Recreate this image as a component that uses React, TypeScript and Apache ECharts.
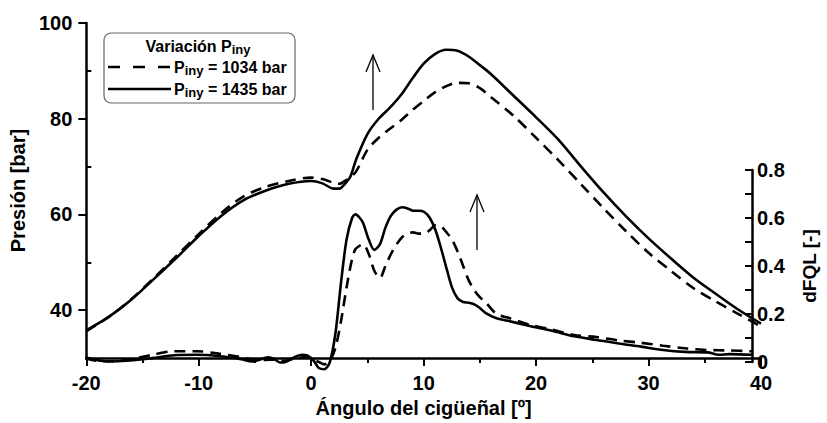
import React, { useEffect, useRef } from "react";
import * as echarts from "echarts";

// ---------- data ----------
const X_MIN = -20;
const X_MAX = 40;
const X_STEP = 10;

const P_MIN = 30;
const P_MAX = 100;
const P_TICKS = [40, 60, 80, 100];
const P_MINOR_TICKS = [50, 70, 90];

const Q_MIN = 0;
const Q_MAX = 0.8;
const Q_STEP = 0.2;

// Cylinder pressure [bar] vs crank angle
const P_ANGLE = [-20, -18, -16, -14, -12, -10, -8, -6, -4, -2, 0, 1, 2, 2.5, 3, 3.5, 4, 5, 6, 7, 8, 9, 10, 11, 12, 13, 14, 15, 16, 18, 20, 22, 24, 26, 28, 30, 32, 34, 36, 38, 40];
const P_1435 = [35.8, 38.6, 42.2, 46.5, 50.9, 55.5, 59.7, 63.0, 65.0, 66.4, 67.0, 66.5, 65.4, 65.4, 66.4, 68.0, 71.5, 76.8, 80.0, 82.3, 85.0, 88.4, 91.5, 93.5, 94.4, 94.2, 93.0, 91.2, 89.3, 84.8, 80.3, 75.6, 70.0, 64.6, 59.6, 55.0, 50.8, 46.8, 43.4, 40.1, 37.2];
const P_1034 = [35.6, 38.6, 42.3, 46.7, 51.3, 55.9, 60.3, 63.8, 65.8, 67.0, 67.7, 67.4, 66.6, 66.4, 67.0, 67.8, 69.0, 73.5, 76.0, 77.9, 79.7, 81.8, 83.7, 85.5, 86.8, 87.5, 87.4, 86.4, 84.5, 80.6, 76.0, 71.3, 66.3, 61.3, 56.5, 52.0, 48.2, 44.6, 41.8, 39.2, 36.6];

// dFQL [-] vs crank angle
const Q_ANGLE = [-20, -19, -18, -16, -14, -12, -10, -8, -6, -5, -4, -3.5, -3, -2.5, -2, -1.5, -1, -0.5, 0, 0.5, 1, 1.5, 2, 2.5, 3, 3.5, 4, 4.3, 4.7, 5, 5.5, 6, 6.5, 7, 7.5, 8, 8.5, 9, 9.5, 10, 10.5, 11, 11.5, 12, 12.5, 13, 13.5, 14, 14.5, 15, 15.5, 16, 17, 18, 20, 22, 24, 26, 28, 30, 32, 34, 36, 37, 38, 40];
const Q_1435 = [0.02, 0.008, 0.002, 0.006, 0.016, 0.028, 0.03, 0.025, 0.012, 0.002, 0.015, 0.02, 0.012, -0.002, 0.0, 0.012, 0.024, 0.03, 0.026, 0.008, -0.025, -0.03, 0.0, 0.12, 0.33, 0.51, 0.6, 0.615, 0.6, 0.578, 0.51, 0.467, 0.49, 0.56, 0.61, 0.635, 0.645, 0.64, 0.63, 0.63, 0.625, 0.6, 0.55, 0.475, 0.39, 0.31, 0.265, 0.25, 0.247, 0.24, 0.225, 0.205, 0.182, 0.172, 0.15, 0.13, 0.107, 0.092, 0.077, 0.064, 0.05, 0.042, 0.04, 0.03, 0.033, 0.03];
const Q_1034 = [0.015, 0.005, 0.003, 0.01, 0.03, 0.045, 0.045, 0.035, 0.02, 0.01, 0.008, 0.01, 0.01, 0.006, 0.005, 0.01, 0.015, 0.02, 0.02, 0.01, 0.0, -0.01, 0.005, 0.06, 0.17, 0.31, 0.43, 0.47, 0.485, 0.49, 0.45, 0.38, 0.35, 0.4, 0.45, 0.49, 0.52, 0.535, 0.54, 0.535, 0.535, 0.55, 0.57, 0.565, 0.54, 0.51, 0.46, 0.4, 0.34, 0.3, 0.27, 0.25, 0.2, 0.185, 0.155, 0.135, 0.112, 0.104, 0.09, 0.08, 0.068, 0.057, 0.05, 0.049, 0.048, 0.045];

const LEGEND_TITLE = "Variación ";
const LEGEND_SUB = "iny";
const LEGEND_1034 = " = 1034 bar";
const LEGEND_1435 = " = 1435 bar";

const FONT = "'Liberation Sans', Arial, sans-serif";

function pairs(xs: number[], ys: number[]) {
  return xs.map((x, i) => [x, ys[i]]);
}

export default function App() {
  const ref = useRef<HTMLDivElement>(null);

  useEffect(() => {
    if (!ref.current) return;
    const chart = echarts.init(ref.current, undefined, { renderer: "svg" });

    const axisLineStyle = { color: "#000", width: 2.5 };
    const tickLineStyle = { color: "#000", width: 2 };
    const labelStyle = {
      fontSize: 20,
      fontWeight: "bold" as const,
      color: "#000",
      fontFamily: FONT,
    };
    const nameStyle = {
      fontSize: 20,
      fontWeight: "bold" as const,
      color: "#000",
      fontFamily: FONT,
    };

    const legendRich = {
      b: { fontSize: 16, fontWeight: "bold", fontFamily: FONT, fill: "#000", lineHeight: 19 },
      s: { fontSize: 13, fontWeight: "bold", fontFamily: FONT, fill: "#000", lineHeight: 14, verticalAlign: "bottom" },
    };

    const option: any = {
      animation: false,
      backgroundColor: "#fff",
      grid: [
        { left: 85.5, right: 66, top: 23, bottom: 61 },
        { left: 85.5, right: 66, top: 170, bottom: 61 },
      ],
      xAxis: [
        {
          gridIndex: 0,
          type: "value",
          min: X_MIN,
          max: X_MAX,
          interval: X_STEP,
          axisLine: { show: true, onZero: false, lineStyle: axisLineStyle },
          axisTick: { show: true, inside: false, length: 8, lineStyle: tickLineStyle },
          minorTick: { show: true, splitNumber: 2, length: 5, lineStyle: tickLineStyle },
          axisLabel: { ...labelStyle, margin: 15 },
          splitLine: { show: false },
          name: "Ángulo del cigüeñal [º]",
          nameLocation: "middle",
          nameGap: 37,
          nameTextStyle: nameStyle,
        },
        {
          gridIndex: 1,
          type: "value",
          min: X_MIN,
          max: X_MAX,
          show: false,
        },
      ],
      yAxis: [
        {
          gridIndex: 0,
          type: "value",
          position: "left",
          min: P_MIN,
          max: P_MAX,
          axisLine: { show: true, onZero: false, lineStyle: axisLineStyle },
          axisTick: { show: true, inside: false, length: 8, lineStyle: tickLineStyle, customValues: P_TICKS },
          axisLabel: { ...labelStyle, margin: 14, customValues: P_TICKS },
          splitLine: { show: false },
          name: "Presión [bar]",
          nameLocation: "middle",
          nameGap: 57,
          nameRotate: 90,
          nameTextStyle: nameStyle,
        },
        {
          gridIndex: 0,
          type: "value",
          position: "left",
          min: P_MIN,
          max: P_MAX,
          axisLine: { show: false, onZero: false },
          axisTick: { show: true, inside: true, length: 5, lineStyle: tickLineStyle, customValues: P_MINOR_TICKS },
          axisLabel: { show: false },
          splitLine: { show: false },
        },
        {
          gridIndex: 1,
          type: "value",
          position: "right",
          min: Q_MIN,
          max: Q_MAX,
          interval: Q_STEP,
          axisLine: { show: true, onZero: false, lineStyle: axisLineStyle },
          axisTick: { show: true, inside: true, length: 7, lineStyle: tickLineStyle },
          minorTick: { show: true, splitNumber: 2, length: 7, lineStyle: tickLineStyle },
          axisLabel: { ...labelStyle, margin: 5 },
          splitLine: { show: false },
          name: "dFQL [-]",
          nameLocation: "middle",
          nameGap: 48,
          nameRotate: 90,
          nameTextStyle: { ...nameStyle, fontSize: 19 },
        },
      ],
      series: [
        {
          name: "Piny = 1034 bar",
          type: "line",
          xAxisIndex: 0,
          yAxisIndex: 0,
          data: pairs(P_ANGLE, P_1034),
          showSymbol: false,
          smooth: 0.3,
          lineStyle: { color: "#000", width: 2.6, type: [11, 7] },
        },
        {
          name: "Piny = 1435 bar",
          type: "line",
          xAxisIndex: 0,
          yAxisIndex: 0,
          data: pairs(P_ANGLE, P_1435),
          showSymbol: false,
          smooth: 0.3,
          lineStyle: { color: "#000", width: 2.6 },
        },
        {
          name: "dFQL 1034 bar",
          type: "line",
          xAxisIndex: 1,
          yAxisIndex: 2,
          data: pairs(Q_ANGLE, Q_1034),
          showSymbol: false,
          smooth: 0.3,
          clip: false,
          lineStyle: { color: "#000", width: 2.6, type: [11, 7] },
        },
        {
          name: "dFQL 1435 bar",
          type: "line",
          xAxisIndex: 1,
          yAxisIndex: 2,
          data: pairs(Q_ANGLE, Q_1435),
          showSymbol: false,
          smooth: 0.3,
          clip: false,
          lineStyle: { color: "#000", width: 2.6 },
        },
      ],
      graphic: [
        {
          type: "rect",
          shape: { x: 104, y: 33, width: 191, height: 70, r: 7 },
          style: { fill: "#fff", stroke: "#666", lineWidth: 1.2 },
          z: 10,
        },
        {
          type: "text",
          x: 198,
          y: 46,
          z: 11,
          style: {
            text: `{b|${LEGEND_TITLE}P}{s|${LEGEND_SUB}}`,
            rich: legendRich,
            align: "center",
            verticalAlign: "middle",
          },
        },
        {
          type: "line",
          shape: { x1: 108, y1: 67, x2: 171, y2: 67 },
          style: { stroke: "#000", lineWidth: 2.6, lineDash: [12, 13] },
          z: 11,
        },
        {
          type: "text",
          x: 174,
          y: 67,
          z: 11,
          style: {
            text: `{b|P}{s|${LEGEND_SUB}}{b|${LEGEND_1034}}`,
            rich: legendRich,
            align: "left",
            verticalAlign: "middle",
          },
        },
        {
          type: "line",
          shape: { x1: 108, y1: 89, x2: 171, y2: 89 },
          style: { stroke: "#000", lineWidth: 2.6 },
          z: 11,
        },
        {
          type: "text",
          x: 174,
          y: 89,
          z: 11,
          style: {
            text: `{b|P}{s|${LEGEND_SUB}}{b|${LEGEND_1435}}`,
            rich: legendRich,
            align: "left",
            verticalAlign: "middle",
          },
        },
        // arrows
        {
          type: "line",
          shape: { x1: 373, y1: 110, x2: 373, y2: 55 },
          style: { stroke: "#000", lineWidth: 1.3 },
        },
        {
          type: "polyline",
          shape: { points: [[366, 72], [373, 55], [380, 72]] },
          style: { stroke: "#000", lineWidth: 1.3, fill: null },
        },
        {
          type: "line",
          shape: { x1: 477, y1: 250, x2: 477, y2: 195 },
          style: { stroke: "#000", lineWidth: 1.3 },
        },
        {
          type: "polyline",
          shape: { points: [[470, 212], [477, 195], [484, 212]] },
          style: { stroke: "#000", lineWidth: 1.3, fill: null },
        },
      ],
    };

    chart.setOption(option);
    return () => chart.dispose();
  }, []);

  return (
    <div
      ref={ref}
      style={{ position: "fixed", left: 0, top: 0, width: 827, height: 423, background: "#fff" }}
    />
  );
}
